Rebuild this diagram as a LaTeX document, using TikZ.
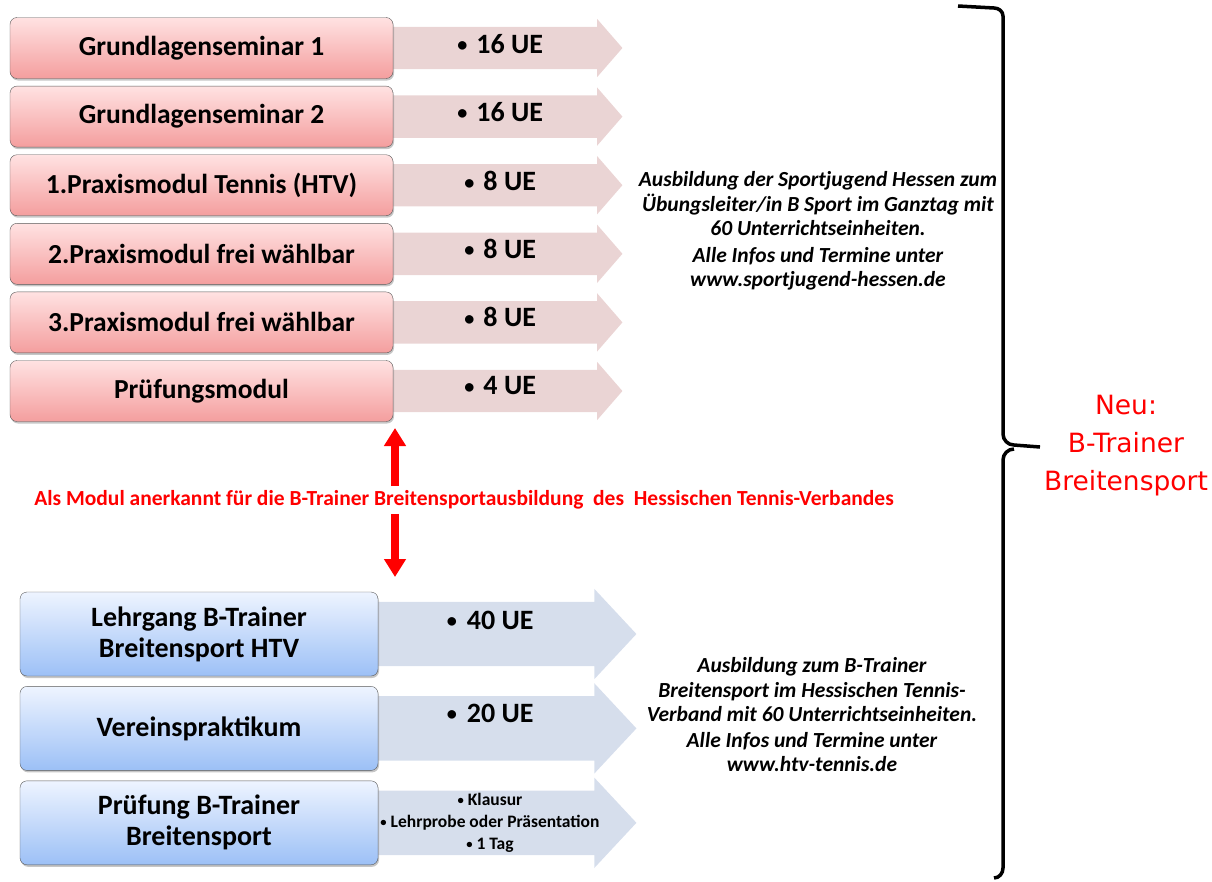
\documentclass[tikz,border=0pt]{standalone}
\usepackage{fontspec}
\setmainfont{Carlito}
\newfontfamily\neufont{DejaVu Sans}
\usetikzlibrary{positioning}
\usetikzlibrary{shapes.arrows}
\usetikzlibrary{shadows}
\usetikzlibrary{arrows.meta}
\usetikzlibrary{backgrounds}

\definecolor{rosetop}{RGB}{255,226,226}
\definecolor{rosebot}{RGB}{244,158,158}
\definecolor{rosearrow}{RGB}{234,212,212}
\definecolor{bluetop}{RGB}{238,244,255}
\definecolor{bluebot}{RGB}{156,192,246}
\definecolor{bluearrow}{RGB}{214,222,236}
\definecolor{signalred}{RGB}{255,0,0}
\newcommand{\pkt}{\raisebox{1.5pt}{\scalebox{.72}{\textbullet}}}

\tikzset{
  modul/.style={draw=black!65, rounded corners=7pt, top color=rosetop,
    bottom color=rosebot, minimum width=383pt, minimum height=61pt,
    font=\bfseries\fontsize{27.5}{32}\selectfont,
    drop shadow={shadow xshift=1pt, shadow yshift=-2pt, opacity=.45}},
  bmodul/.style={modul, top color=bluetop, bottom color=bluebot,
    minimum width=358pt, minimum height=84pt, align=center,
    font=\bfseries\fontsize{28}{31}\selectfont},
  uearrow/.style={single arrow, fill=rosearrow, inner xsep=0pt, inner ysep=21pt,
    minimum height=235pt,
    single arrow head extend=8pt, single arrow tip angle=98, anchor=west},
  barrow/.style={uearrow, fill=bluearrow, inner ysep=32pt,
    minimum height=264pt, single arrow head extend=13pt,
    single arrow tip angle=94},
  uelabel/.style={font=\bfseries\fontsize{28}{32}\selectfont},
  info/.style={align=center, font=\bfseries\itshape\fontsize{21.5}{24.5}\selectfont},
  redarrow/.style={signalred, line width=8.5pt,
    -{Triangle[width=21pt,length=18pt]}},
  brace/.style={line width=3.5pt, line join=round}
}

\begin{document}
\begin{tikzpicture}[x=1pt, y=-1pt] % Ausbildung
  \useasboundingbox (0,0) rectangle (1212,881);

  % Sportjugend Hessen
  \node [modul] (g1) at (201.5,48) {Grundlagenseminar 1};
  \node [modul, below=7.2pt of g1] (g2) {Grundlagenseminar 2};
  \node [modul, below=7.2pt of g2] (p1) {1.Praxismodul Tennis (HTV)};
  \node [modul, below=7.2pt of p1] (p2) {2.Praxismodul frei wählbar};
  \node [modul, below=7.2pt of p2] (p3) {3.Praxismodul frei wählbar};
  \node [modul, below=7.2pt of p3] (pm) {Prüfungsmodul};

  \begin{scope}[on background layer]
    \node [uearrow] (ag1) at ([xshift=-6pt]g1.east) {};
    \node [uearrow] (ag2) at ([xshift=-6pt]g2.east) {};
    \node [uearrow] (ap1) at ([xshift=-6pt]p1.east) {};
    \node [uearrow] (ap2) at ([xshift=-6pt]p2.east) {};
    \node [uearrow] (ap3) at ([xshift=-6pt]p3.east) {};
    \node [uearrow] (apm) at ([xshift=-6pt]pm.east) {};
  \end{scope}

  \node [uelabel] (ug1) at ([xshift=107pt, yshift=4pt]g1.east) {\pkt\hspace{9pt}16 UE};
  \node [uelabel] (ug2) at ([xshift=107pt, yshift=5pt]g2.east) {\pkt\hspace{9pt}16 UE};
  \node [uelabel] (up1) at ([xshift=107pt, yshift=4pt]p1.east) {\pkt\hspace{9pt}8 UE};
  \node [uelabel] (up2) at ([xshift=107pt, yshift=5pt]p2.east) {\pkt\hspace{9pt}8 UE};
  \node [uelabel] (up3) at ([xshift=107pt, yshift=5pt]p3.east) {\pkt\hspace{9pt}8 UE};
  \node [uelabel] (upm) at ([xshift=107pt, yshift=5pt]pm.east) {\pkt\hspace{9pt}4 UE};

  \node [info] (sj) at (818,231) {Ausbildung der Sportjugend Hessen zum\\
    Übungsleiter/in B Sport im Ganztag mit\\ 60 Unterrichtseinheiten.\\[2pt]
    Alle Infos und Termine unter\\ www.sportjugend-hessen.de};

  % Anerkennung
  \node [signalred, font=\bfseries\fontsize{21.5}{24}\selectfont] (anm) at (464,500)
    {Als Modul anerkannt für die B-Trainer Breitensportausbildung \ des \ Hessischen Tennis-Verbandes};
  \coordinate (hoch) at (395,428);
  \coordinate (runter) at (395,577);
  \draw [redarrow] ([yshift=1pt]anm.north -| hoch) -- (hoch);
  \draw [redarrow] ([yshift=-1pt]anm.south -| runter) -- (runter);

  % HTV
  \node [bmodul] (lg) at (199,634) {Lehrgang B-Trainer\\Breitensport HTV};
  \node [bmodul, below=10pt of lg] (vp) {Vereinspraktikum};
  \node [bmodul, below=10pt of vp] (pb) {Prüfung B-Trainer\\Breitensport};

  \begin{scope}[on background layer]
    \node [barrow] (alg) at ([xshift=-6pt]lg.east) {};
    \node [barrow] (avp) at ([xshift=-6pt]vp.east) {};
    \node [barrow] (apb) at ([xshift=-6pt]pb.east) {};
  \end{scope}

  \node [uelabel] (ulg) at ([xshift=112pt, yshift=14pt]lg.east) {\pkt\hspace{10pt}40 UE};
  \node [uelabel] (uvp) at ([xshift=112pt, yshift=15pt]vp.east) {\pkt\hspace{10pt}20 UE};
  \node [align=center, font=\bfseries\fontsize{17.5}{22}\selectfont] (upb) at (490,823)
    {\pkt\ Klausur\\ \pkt\ Lehrprobe oder Präsentation\\ \pkt\ 1 Tag};

  \node [info] (htv) at (812,715) {Ausbildung zum B-Trainer\\
    Breitensport im Hessischen Tennis-\\ Verband mit 60 Unterrichtseinheiten.\\[1pt]
    Alle Infos und Termine unter\\ www.htv-tennis.de};

  % Klammer
  \node [signalred, align=center, font=\neufont\fontsize{26.5}{38}\selectfont] (neu) at (1126,446)
    {Neu:\\ B-Trainer\\ Breitensport};
  \coordinate (spitze) at (1040,447);
  \draw [brace] (958,6) -- (994,8) to [out=0, in=90] (1003,16) -- (1003,434)
    to [out=-90, in=180] (1014,445) -- (spitze);
  \draw [brace] (1014,449) to [out=180, in=90] (1003,460) -- (1003,868)
    to [out=-90, in=0] (994,878);

\end{tikzpicture}
\end{document}
